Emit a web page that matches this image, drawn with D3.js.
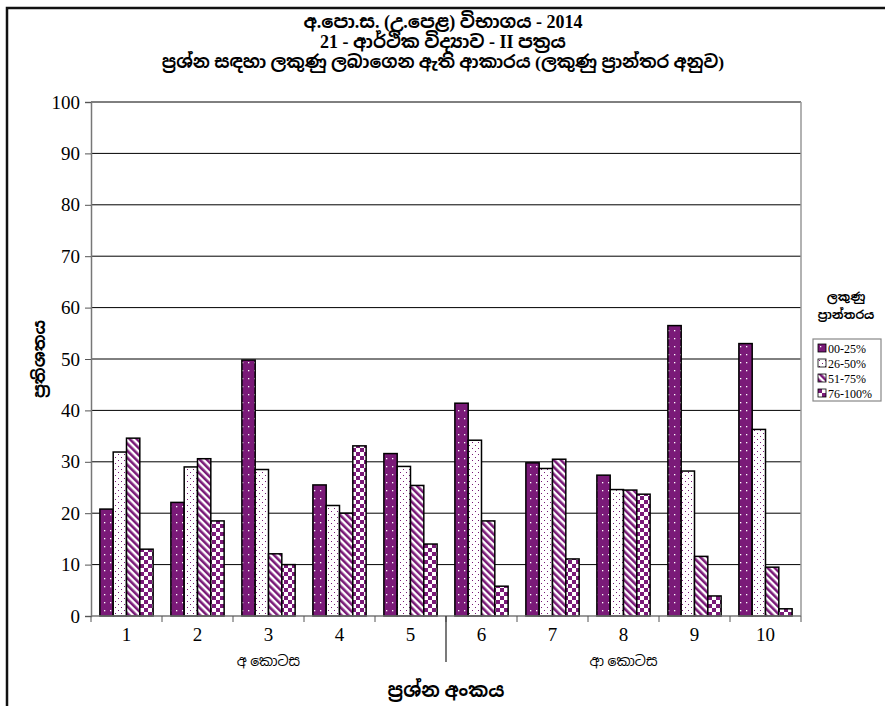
<!DOCTYPE html>
<html>
<head>
<meta charset="utf-8">
<script src="https://cdn.jsdelivr.net/npm/d3@7"></script>
<style>
  body { margin:0; background:#fff; }
</style>
</head>
<body>
<div id="chart"></div>
<script>
// question numbers and the share of candidates in each mark range
var questions = ["1","2","3","4","5","6","7","8","9","10"];
var ranges = ["00-25%","26-50%","51-75%","76-100%"];
var r00_25  = [20.8, 22.1, 49.8, 25.5, 31.6, 41.4, 29.8, 27.4, 56.5, 53.0];
var r26_50  = [31.9, 29.0, 28.5, 21.5, 29.1, 34.2, 28.7, 24.6, 28.2, 36.3];
var r51_75  = [34.6, 30.6, 12.1, 20.0, 25.4, 18.5, 30.5, 24.5, 11.6, 9.5];
var r76_100 = [13.0, 18.5, 10.0, 33.1, 14.0, 5.8, 11.1, 23.7, 3.9, 1.4];
var yTicks = [0,10,20,30,40,50,60,70,80,90,100];
var parts = ["අ කොටස", "ආ කොටස"];
var titles = ["අ.පො.ස. (උ.පෙළ) විභාගය - 2014",
              "21 - ආර්ථික විද්‍යාව - II  පත්‍රය",
              "ප්‍රශ්න සඳහා ලකුණු ලබාගෙන ඇති ආකාරය (ලකුණු ප්‍රාන්තර  අනුව)"];

var series = [r00_25, r26_50, r51_75, r76_100];
var purple = "#7a1a78";
var SERIF = "'Liberation Serif', 'Times New Roman', serif";
var SINH = "'Liberation Serif', 'Noto Sans Sinhala', 'Iskoola Pota', serif";

var W = 885, H = 706;
var pleft = 91, pright = 801, ptop = 102, pbottom = 616;

var svg = d3.select("#chart").append("svg:svg")
  .attr("width", W).attr("height", H);

// fill patterns, one per range
var defs = svg.append("defs");
var p0 = defs.append("pattern").attr("id","pat0").attr("patternUnits","userSpaceOnUse")
  .attr("width",6).attr("height",8);
p0.append("rect").attr("width",6).attr("height",8).attr("fill",purple);
p0.append("rect").attr("x",2).attr("y",2).attr("width",1.3).attr("height",1.3).attr("fill","#fff");

var p1 = defs.append("pattern").attr("id","pat1").attr("patternUnits","userSpaceOnUse")
  .attr("width",6).attr("height",6);
p1.append("rect").attr("width",6).attr("height",6).attr("fill","#fff");
p1.append("rect").attr("x",1).attr("y",1).attr("width",1).attr("height",1).attr("fill",purple);
p1.append("rect").attr("x",4).attr("y",4).attr("width",1).attr("height",1).attr("fill",purple);

var p2 = defs.append("pattern").attr("id","pat2").attr("patternUnits","userSpaceOnUse")
  .attr("width",5).attr("height",5).attr("patternTransform","rotate(-45)");
p2.append("rect").attr("width",5).attr("height",5).attr("fill","#fff");
p2.append("rect").attr("width",2.6).attr("height",5).attr("fill",purple);

var p3 = defs.append("pattern").attr("id","pat3").attr("patternUnits","userSpaceOnUse")
  .attr("width",8).attr("height",8);
p3.append("rect").attr("width",8).attr("height",8).attr("fill","#fff");
p3.append("rect").attr("width",4).attr("height",4).attr("fill",purple);
p3.append("rect").attr("x",4).attr("y",4).attr("width",4).attr("height",4).attr("fill",purple);

// frame around the figure (left and top edges visible)
svg.append("path").attr("d","M7,"+H+" L7,8 L"+W+",8")
  .attr("fill","none").attr("stroke","#111").attr("stroke-width",2.5);

var x = d3.scaleBand().domain(questions).range([pleft, pright])
  .paddingInner(0.25).paddingOuter(0.125);
var xs = d3.scaleBand().domain(d3.range(ranges.length)).range([0, x.bandwidth()]);
var y = d3.scaleLinear().domain([0,100]).range([pbottom, ptop]);

// gridlines
svg.append("g").selectAll("line").data(yTicks.slice(1)).enter().append("line")
  .attr("x1", pleft).attr("x2", pright)
  .attr("y1", function(d){ return y(d); }).attr("y2", function(d){ return y(d); })
  .attr("stroke","#000").attr("stroke-width",1);
svg.append("line").attr("x1",pright).attr("x2",pright).attr("y1",ptop).attr("y2",pbottom)
  .attr("stroke","#999").attr("stroke-width",1.5);

// bars
var groups = svg.append("g").selectAll("g").data(series).enter().append("g")
  .attr("fill", function(d,i){ return "url(#pat"+i+")"; });
groups.each(function(vals, si){
  d3.select(this).selectAll("rect").data(vals).enter().append("rect")
    .attr("x", function(d,i){ return x(questions[i]) + xs(si); })
    .attr("y", function(d){ return y(d); })
    .attr("width", xs.bandwidth())
    .attr("height", function(d){ return y(0) - y(d); })
    .attr("stroke","#000").attr("stroke-width",1.5);
});

// y axis (ticks from the axis, labels drawn separately in serif)
var yAxis = svg.append("g").attr("transform","translate("+pleft+",0)")
  .call(d3.axisLeft(y).tickValues(yTicks).tickSize(6).tickFormat(""));
yAxis.select(".domain").attr("stroke","#777").attr("stroke-width",1.5);
yAxis.selectAll("line").attr("stroke","#555");
svg.append("g").selectAll("text").data(yTicks).enter().append("text")
  .attr("x", pleft - 11).attr("y", function(d){ return y(d); })
  .attr("dy","0.35em").attr("text-anchor","end")
  .style("font-family", SERIF).style("font-size","19px")
  .text(function(d){ return d; });

// x axis: ticks at category boundaries
var step = x.step();
var bounds = questions.map(function(q){ return x(q) - step*0.125; }).concat([pright]);
svg.append("line").attr("x1",pleft).attr("x2",pright).attr("y1",pbottom).attr("y2",pbottom)
  .attr("stroke","#777").attr("stroke-width",1.5);
svg.append("g").selectAll("line").data(bounds).enter().append("line")
  .attr("x1", function(d){ return d; }).attr("x2", function(d){ return d; })
  .attr("y1", pbottom).attr("y2", pbottom+6).attr("stroke","#555");
svg.append("g").selectAll("text").data(questions).enter().append("text")
  .attr("x", function(d){ return x(d) + x.bandwidth()/2; })
  .attr("y", pbottom + 25).attr("text-anchor","middle")
  .style("font-family", SERIF).style("font-size","19px")
  .text(function(d){ return d; });

// section divider between question 5 and 6
svg.append("line").attr("x1",bounds[5]).attr("x2",bounds[5])
  .attr("y1",pbottom).attr("y2",pbottom+46).attr("stroke","#333").attr("stroke-width",1.3);
svg.append("g").selectAll("text").data(parts).enter().append("text")
  .attr("x", function(d,i){ return i == 0 ? (bounds[0]+bounds[5])/2 : (bounds[5]+bounds[10])/2; })
  .attr("y", pbottom + 50).attr("text-anchor","middle")
  .style("font-family", SINH).style("font-size","14px")
  .text(function(d){ return d; });

// titles
svg.append("g").selectAll("text").data(titles).enter().append("text")
  .attr("x",443).attr("y", function(d,i){ return 28 + i*20; })
  .attr("text-anchor","middle")
  .style("font-family", SINH).style("font-weight","bold")
  .style("font-size", function(d,i){ return i < 2 ? "18px" : "17.5px"; })
  .text(function(d){ return d; });

svg.append("text")
  .attr("transform","translate(45,"+((ptop+pbottom)/2)+") rotate(-90)")
  .attr("text-anchor","middle")
  .style("font-family", SINH).style("font-weight","bold").style("font-size","17px")
  .text("ප්‍රතිශතය");
svg.append("text").attr("x",446).attr("y",697).attr("text-anchor","middle")
  .style("font-family", SINH).style("font-weight","bold").style("font-size","19px")
  .text("ප්‍රශ්න අංකය");

// legend
svg.append("text").attr("x",846).attr("y",301).attr("text-anchor","middle")
  .style("font-family", SINH).style("font-weight","bold").style("font-size","12px")
  .text("ලකුණු");
svg.append("text").attr("x",846).attr("y",319).attr("text-anchor","middle")
  .style("font-family", SINH).style("font-weight","bold").style("font-size","12px")
  .text("ප්‍රාන්තරය");
svg.append("rect").attr("x",813).attr("y",339).attr("width",68).attr("height",62)
  .attr("fill","#fff").attr("stroke","#888").attr("stroke-width",1.2);
var leg = svg.append("g").selectAll("g").data(ranges).enter().append("g")
  .attr("transform", function(d,i){ return "translate(818,"+(344+i*15)+")"; });
leg.append("rect").attr("width",8).attr("height",8)
  .attr("fill", function(d,i){ return "url(#pat"+i+")"; })
  .attr("stroke","#000").attr("stroke-width",0.8);
leg.append("text").attr("x",10).attr("y",8.5)
  .style("font-family", SERIF).style("font-size","12px")
  .text(function(d){ return d; });
</script>
</body>
</html>
